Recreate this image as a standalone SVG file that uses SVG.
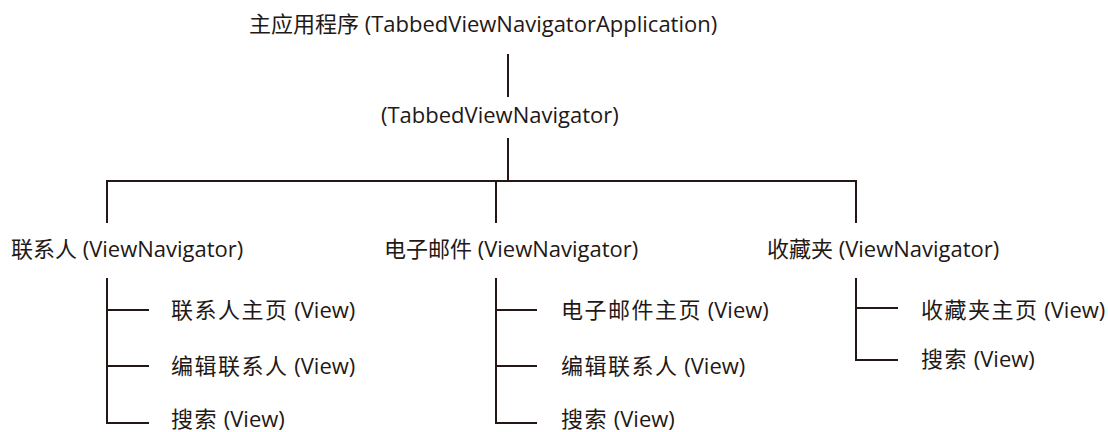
<svg xmlns="http://www.w3.org/2000/svg" width="1108" height="432" viewBox="0 0 1108 432">
  <style>
    .t { font-family: "Open Sans", "Noto Sans CJK SC", sans-serif; font-size: 22px; fill: #231815; }
    .c { letter-spacing: 1.5px; }
    .ln { stroke: #231815; stroke-width: 2; fill: none; }
  </style>
  <rect width="1108" height="432" fill="#ffffff"/>
  <g id="connectors">
    <line class="ln" x1="508" y1="54" x2="508" y2="97"/>
    <line class="ln" x1="508" y1="138" x2="508" y2="181"/>
    <polyline class="ln" points="107,223 107,181 856,181 856,223"/>
    <line class="ln" x1="496" y1="181" x2="496" y2="223"/>
    <polyline class="ln" points="107,278 107,423 149,423"/>
    <line class="ln" x1="107" y1="310" x2="149" y2="310"/>
    <line class="ln" x1="107" y1="366" x2="149" y2="366"/>
    <polyline class="ln" points="496,278 496,423 537,423"/>
    <line class="ln" x1="496" y1="310" x2="537" y2="310"/>
    <line class="ln" x1="496" y1="366" x2="537" y2="366"/>
    <polyline class="ln" points="856,278 856,360 898,360"/>
    <line class="ln" x1="856" y1="308" x2="898" y2="308"/>
  </g>
  <g id="app"><text class="t" x="249" y="31.5">主应用程序 (TabbedViewNavigatorApplication)</text></g>
  <g id="tabbed"><text class="t" x="381" y="123">(TabbedViewNavigator)</text></g>
  <g id="contacts"><text class="t" x="11" y="257">联系人 (ViewNavigator)</text></g>
  <g id="email"><text class="t" x="384" y="257">电子邮件 (ViewNavigator)</text></g>
  <g id="favorites"><text class="t" x="767" y="257">收藏夹 (ViewNavigator)</text></g>
  <g id="contacts-home"><text class="t" x="171" y="318"><tspan class="c">联系人主页</tspan> (View)</text></g>
  <g id="contacts-edit"><text class="t" x="171" y="374"><tspan class="c">编辑联系人</tspan> (View)</text></g>
  <g id="contacts-search"><text class="t" x="171" y="427"><tspan class="c">搜索</tspan> (View)</text></g>
  <g id="email-home"><text class="t" x="561" y="318"><tspan class="c">电子邮件主页</tspan> (View)</text></g>
  <g id="email-edit"><text class="t" x="561" y="374"><tspan class="c">编辑联系人</tspan> (View)</text></g>
  <g id="email-search"><text class="t" x="561" y="427"><tspan class="c">搜索</tspan> (View)</text></g>
  <g id="favorites-home"><text class="t" x="921" y="318"><tspan class="c">收藏夹主页</tspan> (View)</text></g>
  <g id="favorites-search"><text class="t" x="921" y="367"><tspan class="c">搜索</tspan> (View)</text></g>
</svg>
